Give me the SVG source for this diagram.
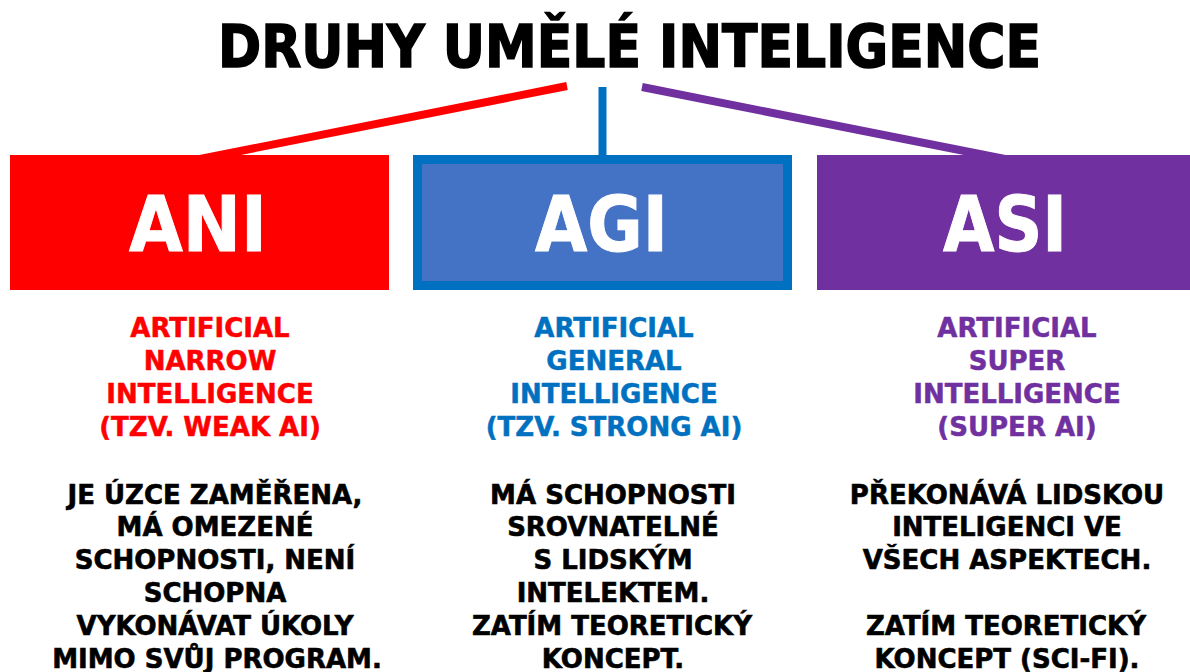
<svg xmlns="http://www.w3.org/2000/svg" width="1190" height="672" viewBox="0 0 1190 672">
<style>
text{font-family:"DejaVu Sans","Liberation Sans",sans-serif;font-weight:bold;text-anchor:middle}
.title{font-size:58px;fill:#000;stroke:#000;stroke-width:1.6}
.lbl{font-size:77px;fill:#fff;stroke:#fff;stroke-width:1}
.sub{font-size:26px;stroke-width:0.5}
.body{font-size:26px;fill:#000;stroke:#000;stroke-width:0.6}
.red{fill:#FF0000;stroke:#FF0000}
.blue{fill:#0070C0;stroke:#0070C0}
.purple{fill:#7030A0;stroke:#7030A0}
</style>
<rect width="1190" height="672" fill="#fff"/>
<text id="title" class="title" x="629.5" y="67" textLength="823" lengthAdjust="spacingAndGlyphs">DRUHY UMĚLÉ INTELIGENCE</text>
<g id="connectors">
<line x1="567" y1="86" x2="195" y2="160" stroke="#FF0000" stroke-width="8"/>
<line x1="602.5" y1="87" x2="602.5" y2="158" stroke="#0070C0" stroke-width="8"/>
<line x1="642" y1="87" x2="1015" y2="161" stroke="#7030A0" stroke-width="8"/>
</g>
<g id="ani">
<rect x="10" y="155" width="379" height="135" fill="#FF0000"/>
<text class="lbl" x="198" y="251" textLength="138" lengthAdjust="spacingAndGlyphs">ANI</text>
<text class="sub red" x="210" y="337">ARTIFICIAL</text>
<text class="sub red" x="210" y="370">NARROW</text>
<text class="sub red" x="210" y="403">INTELLIGENCE</text>
<text class="sub red" x="210" y="436">(TZV. WEAK AI)</text>
<text class="body" x="215" y="504">JE ÚZCE ZAMĚŘENA,</text>
<text class="body" x="215" y="536">MÁ OMEZENÉ</text>
<text class="body" x="215" y="569">SCHOPNOSTI, NENÍ</text>
<text class="body" x="215" y="602">SCHOPNA</text>
<text class="body" x="215" y="635">VYKONÁVAT ÚKOLY</text>
<text class="body" x="217" y="668">MIMO SVŮJ PROGRAM.</text>
</g>
<g id="agi">
<rect x="417.5" y="159.5" width="370" height="126" fill="#4472C4" stroke="#0070C0" stroke-width="9"/>
<text class="lbl" x="601.5" y="251" textLength="133" lengthAdjust="spacingAndGlyphs">AGI</text>
<text class="sub blue" x="614" y="337">ARTIFICIAL</text>
<text class="sub blue" x="614" y="370">GENERAL</text>
<text class="sub blue" x="614" y="403">INTELLIGENCE</text>
<text class="sub blue" x="614" y="436">(TZV. STRONG AI)</text>
<text class="body" x="613" y="504">MÁ SCHOPNOSTI</text>
<text class="body" x="613" y="536">SROVNATELNÉ</text>
<text class="body" x="613" y="569">S LIDSKÝM</text>
<text class="body" x="613" y="602">INTELEKTEM.</text>
<text class="body" x="612" y="635">ZATÍM TEORETICKÝ</text>
<text class="body" x="613" y="668">KONCEPT.</text>
</g>
<g id="asi">
<rect x="817" y="155" width="373" height="135" fill="#7030A0"/>
<text class="lbl" x="1005" y="251" textLength="124" lengthAdjust="spacingAndGlyphs">ASI</text>
<text class="sub purple" x="1017" y="337">ARTIFICIAL</text>
<text class="sub purple" x="1017" y="370">SUPER</text>
<text class="sub purple" x="1017" y="403">INTELLIGENCE</text>
<text class="sub purple" x="1017" y="436">(SUPER AI)</text>
<text class="body" x="1007" y="504">PŘEKONÁVÁ LIDSKOU</text>
<text class="body" x="1007" y="536">INTELIGENCI VE</text>
<text class="body" x="1007" y="569">VŠECH ASPEKTECH.</text>
<text class="body" x="1006" y="635">ZATÍM TEORETICKÝ</text>
<text class="body" x="1007" y="668">KONCEPT (SCI-FI).</text>
</g>
</svg>
